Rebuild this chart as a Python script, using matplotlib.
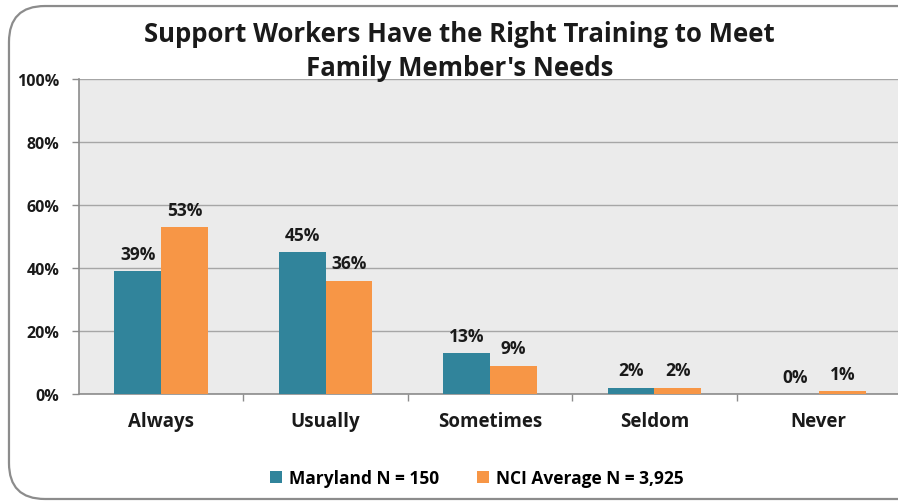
import matplotlib
matplotlib.use("Agg")
import matplotlib.pyplot as plt
from matplotlib.patches import FancyBboxPatch, Patch

categories = ["Always", "Usually", "Sometimes", "Seldom", "Never"]
maryland = [39, 45, 13, 2, 0]
nci_average = [53, 36, 9, 2, 1]
series_names = ["Maryland N = 150", "NCI Average N = 3,925"]
y_ticks = [0, 20, 40, 60, 80, 100]
title = "Support Workers Have the Right Training to Meet\nFamily Member's Needs"

teal = "#31849B"
orange = "#F79646"
font = "Open Sans"

fig = plt.figure(figsize=(8.98, 5.02), dpi=100)
fig.patch.set_facecolor("white")

# rounded chart frame
frame = FancyBboxPatch((0.010, 0.004), 1.05, 0.982,
                       boxstyle="round,pad=0,rounding_size=0.04",
                       transform=fig.transFigure, facecolor="none",
                       edgecolor="#8c8c8c", linewidth=1.6, zorder=0,
                       mutation_aspect=898 / 502)
fig.patches.append(frame)

ax = fig.add_axes([0.088, 0.2131, 0.9154, 0.6275])
ax.set_facecolor("#EBEBEB")

n = len(categories)
x = list(range(n))
w = 0.285
b1 = ax.bar([i - w / 2 for i in x], maryland, width=w, color=teal, zorder=3)
b2 = ax.bar([i + w / 2 for i in x], nci_average, width=w, color=orange, zorder=3)

for bars, vals in ((b1, maryland), (b2, nci_average)):
    for rect, v in zip(bars, vals):
        ax.annotate(f"{v}%", (rect.get_x() + rect.get_width() / 2, v),
                    xytext=(0, 6), textcoords="offset points",
                    ha="center", va="bottom", fontsize=12.5, fontweight="bold",
                    family=font, color="#1a1a1a", zorder=4)

ax.set_xlim(-0.5, n - 0.5)
ax.set_ylim(0, 100)
ax.set_yticks(y_ticks)
ax.set_yticklabels([f"{t}%" for t in y_ticks], fontsize=11.5, fontweight="bold",
                   family=font, color="#1a1a1a")
ax.yaxis.grid(True, color="#a6a6a6", linewidth=1.0, zorder=1)
ax.set_axisbelow(True)

ax.set_xticks(x)
ax.set_xticklabels(categories, fontsize=13.5, fontweight="bold", family=font,
                   color="#1a1a1a")
ax.tick_params(axis="x", length=0, pad=12)
ax.set_xticks([i + 0.5 for i in range(n - 1)], minor=True)
ax.tick_params(axis="x", which="minor", length=5, color="#8c8c8c", width=1)
ax.tick_params(axis="y", length=5, color="#8c8c8c", width=1, pad=9)

for side in ("top", "right"):
    ax.spines[side].set_visible(False)
for side in ("left", "bottom"):
    ax.spines[side].set_color("#8c8c8c")
    ax.spines[side].set_linewidth(1.2)

fig.text(0.512, 0.897, title, ha="center", va="center", fontsize=18.5,
         fontweight="bold", family=font, color="#1a1a1a", linespacing=1.32)

handles = [Patch(facecolor=teal), Patch(facecolor=orange)]
fig.legend(handles, series_names, loc="center", bbox_to_anchor=(0.531, 0.046),
           ncol=2, frameon=False, handlelength=0.7, handleheight=0.7,
           handletextpad=0.4, columnspacing=2.2,
           prop={"family": font, "weight": "bold", "size": 12.5})

fig.savefig("out.png", dpi=100)
